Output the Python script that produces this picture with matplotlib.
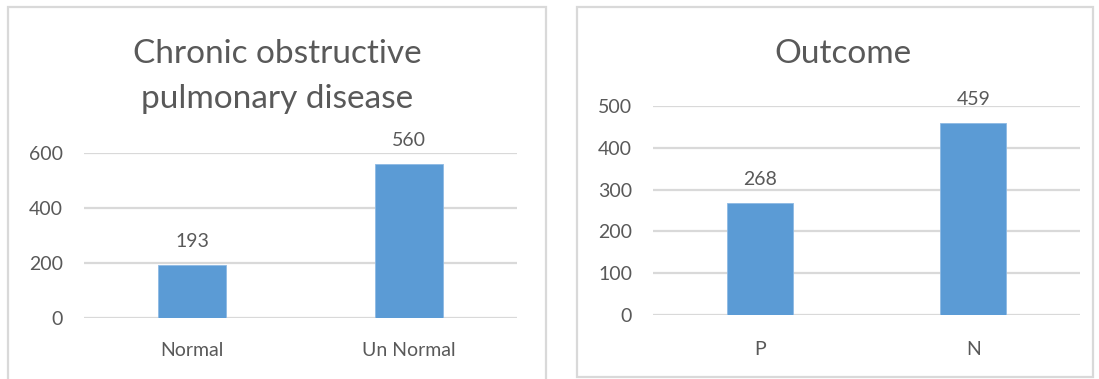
import matplotlib
matplotlib.use("Agg")
import matplotlib.pyplot as plt
from matplotlib.patches import Rectangle

plt.rcParams['font.family'] = ['Lato', 'DejaVu Sans']

copd_title = ["Chronic obstructive", "pulmonary disease"]
copd_categories = ["Normal", "Un Normal"]
copd_counts = [193, 560]
copd_ticks = [0, 200, 400, 600]

outcome_title = ["Outcome"]
outcome_categories = ["P", "N"]
outcome_counts = [268, 459]
outcome_ticks = [0, 100, 200, 300, 400, 500]

BAR = "#5B9BD5"
GRID = "#D9D9D9"
TEXT = "#595959"
W, H = 1099, 379

fig = plt.figure(figsize=(W / 100, H / 100), dpi=100)
fig.patch.set_facecolor("white")


def px_axes(x0, y0, x1, y1):
    # pixel box (top-left origin) -> figure fraction axes
    return fig.add_axes([x0 / W, 1 - y1 / H, (x1 - x0) / W, (y1 - y0) / H])


def frame(x0, y0, x1, y1):
    fig.patches.append(Rectangle((x0 / W, 1 - y1 / H), (x1 - x0) / W, (y1 - y0) / H,
                                 transform=fig.transFigure, fill=False,
                                 edgecolor=GRID, linewidth=1.6))


def title_lines(cx, lines, first_baseline, step=45):
    for i, line in enumerate(lines):
        fig.text(cx / W, 1 - (first_baseline + i * step) / H, line, ha="center",
                 va="baseline", fontsize=24, color=TEXT)


def bar_panel(ax, cats, vals, ticks, width, xpad):
    xs = range(len(cats))
    ax.bar(xs, vals, width=width, color=BAR, edgecolor="#8DB9E4", linewidth=0.6, zorder=3)
    ax.set_xlim(-0.5, len(cats) - 0.5)
    ax.set_ylim(ticks[0], ticks[-1])
    ax.set_yticks(ticks)
    ax.set_xticks(list(xs))
    ax.set_xticklabels(cats)
    for s in ax.spines.values():
        s.set_visible(False)
    ax.grid(axis="y", color=GRID, linewidth=1.6, zorder=0)
    ax.set_axisbelow(True)
    ax.tick_params(axis="both", length=0, labelsize=14, labelcolor=TEXT)
    ax.tick_params(axis="y", pad=15)
    ax.tick_params(axis="x", pad=xpad)
    ax.set_facecolor("none")
    for x, v in zip(xs, vals):
        ax.annotate(str(v), (x, v), xytext=(0, 11), textcoords="offset points",
                    ha="center", va="bottom", fontsize=14, color=TEXT, clip_on=False)


# panel frames
frame(8, 7, 546, 395)
frame(577, 7, 1093, 377)

ax1 = px_axes(84, 153, 517, 318)
bar_panel(ax1, copd_categories, copd_counts, copd_ticks, 0.315, 17)
title_lines(277, copd_title, 63)

ax2 = px_axes(653, 106, 1080, 315)
bar_panel(ax2, outcome_categories, outcome_counts, outcome_ticks, 0.31, 19)
title_lines(843, outcome_title, 63)

fig.savefig("out.png", dpi=100, facecolor="white")
